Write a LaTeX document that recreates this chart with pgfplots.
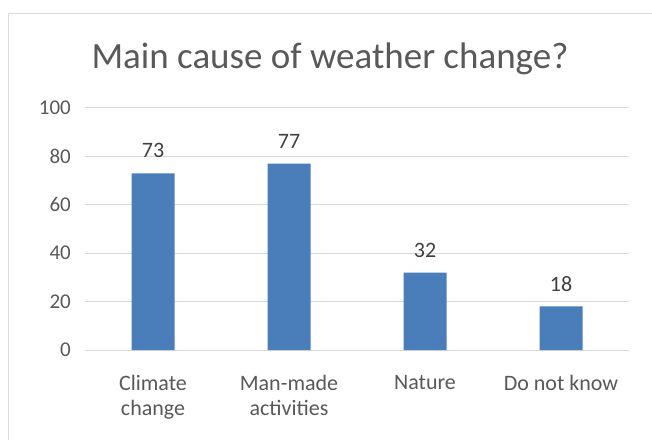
\documentclass[border=0pt]{standalone}
\usepackage{pgfplots}
\pgfplotsset{compat=1.18}
\usepackage{fontspec}
\setmainfont{Carlito}
\definecolor{barblue}{RGB}{74,126,187}
\definecolor{txtgray}{RGB}{89,89,89}
\definecolor{gridgray}{RGB}{217,217,217}
\definecolor{bordergray}{RGB}{217,217,217}
\begin{document}
\begin{tikzpicture}[x=1pt,y=1pt]
\useasboundingbox (0,0) rectangle (652,439);
\fill[white] (0,0) rectangle (652,439);
\draw[bordergray, line width=1pt] (8,-20) -- (8,425) -- (680,425);
\node[anchor=base, text=txtgray, font=\fontsize{37}{40}\selectfont, inner sep=0pt] at (330,370) {Main cause of weather change?};
\begin{axis}[
  at={(85pt,89pt)}, anchor=south west,
  scale only axis, width=544pt, height=242pt,
  xmin=-0.5, xmax=3.5, ymin=0, ymax=100,
  ybar, bar width=43pt,
  axis line style={draw=none},
  major tick style={draw=none},
  ytick={0,20,40,60,80,100},
  ymajorgrids, grid style={gridgray, line width=1pt},
  xtick={0,1,2,3},
  xticklabels={{Climate\\change},{Man-made\\activities},{Nature},{Do not know}},
  xticklabel style={align=center, anchor=north, inner sep=0pt, yshift=-21pt, text=txtgray, font=\fontsize{22}{25}\selectfont},
  yticklabel style={anchor=east, inner sep=0pt, xshift=-14pt, text=txtgray, font=\fontsize{21}{24}\selectfont},
  /pgf/number format/assume math mode=true,
  nodes near coords,
  every node near coord/.append style={inner sep=0pt, yshift=15pt, text={rgb,255:red,64;green,64;blue,64}, font=\fontsize{22}{24}\selectfont},
  clip=false,
]
\addplot[fill=barblue, draw=none] coordinates {(0,73) (1,77) (2,32) (3,18)};
\end{axis}
\end{tikzpicture}
\end{document}
